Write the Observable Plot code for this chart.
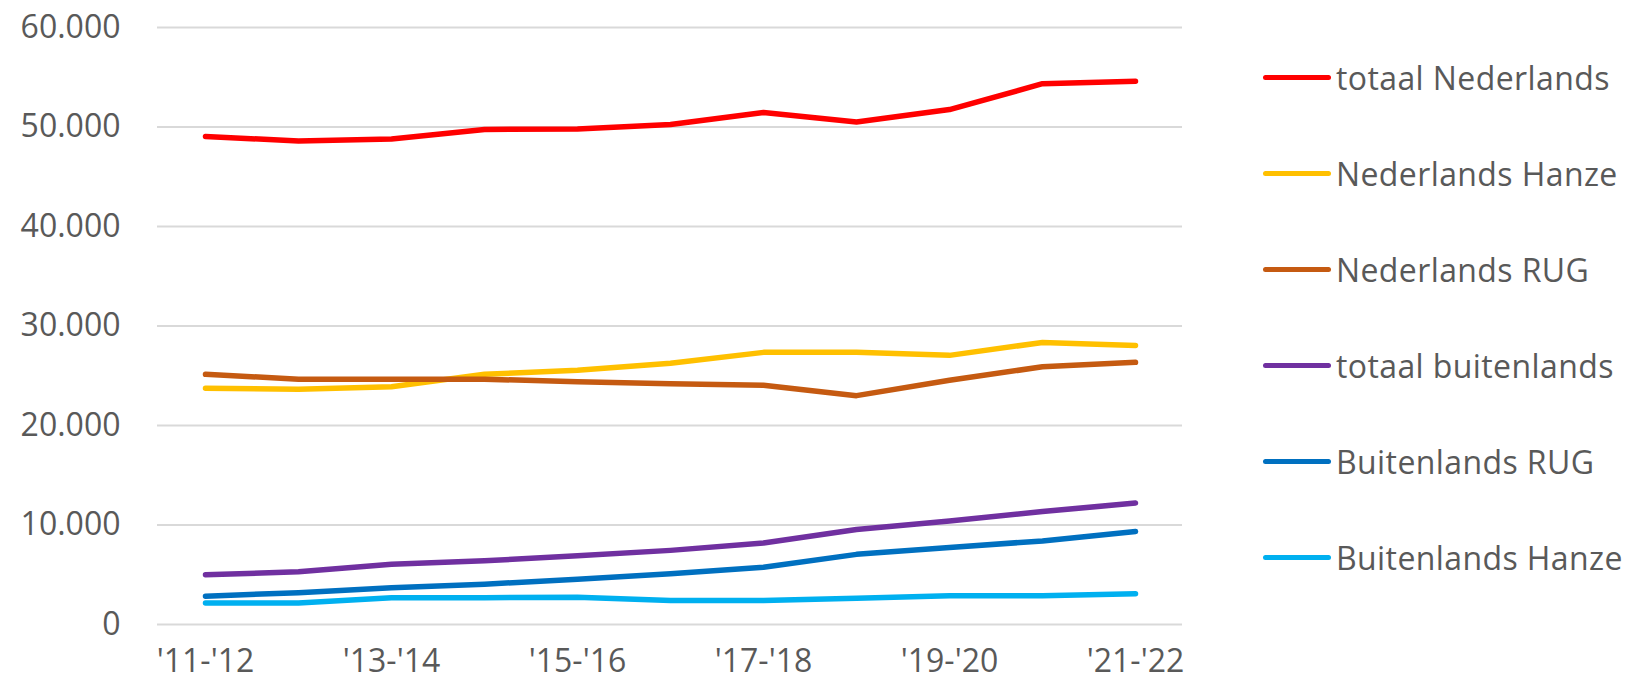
<!DOCTYPE html>
<html>
<head>
<meta charset="utf-8">
<script src="https://cdn.jsdelivr.net/npm/d3@7"></script>
<script src="https://cdn.jsdelivr.net/npm/@observablehq/plot@0.6"></script>
<style>
  html, body { margin: 0; padding: 0; background: #ffffff; }
  body { font-family: "Open Sans", sans-serif; }
  #wrap { position: relative; width: 1629px; height: 682px; overflow: hidden; }
  #legend { position: absolute; left: 1263px; top: 0; }
  .row { position: absolute; left: 0; height: 44px; display: flex; align-items: center; white-space: nowrap; }
  .swatch { width: 68px; height: 5px; border-radius: 3px; margin-right: 5px; }
  .lab { font-size: 32px; color: #595959; letter-spacing: 0.4px; }
</style>
</head>
<body>
<div id="wrap"><div id="legend"></div></div>
<script>
// Categories (academic years)
const years = ["'11-'12", "'12-'13", "'13-'14", "'14-'15", "'15-'16", "'16-'17", "'17-'18", "'18-'19", "'19-'20", "'20-'21", "'21-'22"];
const xTickLabels = ["'11-'12", "'13-'14", "'15-'16", "'17-'18", "'19-'20", "'21-'22"];
const yTicks = [0, 10000, 20000, 30000, 40000, 50000, 60000];

// Series names and colours
const seriesNames = ["totaal Nederlands", "Nederlands Hanze", "Nederlands RUG", "totaal buitenlands", "Buitenlands RUG", "Buitenlands Hanze"];
const seriesColors = ["#FF0000", "#FFC000", "#C55A11", "#7030A0", "#0070C0", "#00B0F0"];

// Series values
const totaalNederlands  = [49050, 48600, 48800, 49750, 49800, 50250, 51450, 50500, 51750, 54350, 54600];
const nederlandsHanze   = [23750, 23650, 23900, 25150, 25550, 26250, 27350, 27350, 27050, 28350, 28050];
const nederlandsRUG     = [25150, 24650, 24650, 24650, 24400, 24200, 24050, 23000, 24550, 25900, 26350];
const totaalBuitenlands = [5000, 5300, 6050, 6400, 6900, 7450, 8200, 9550, 10400, 11350, 12200];
const buitenlandsRUG    = [2850, 3200, 3700, 4050, 4550, 5100, 5750, 7050, 7750, 8400, 9350];
const buitenlandsHanze  = [2150, 2150, 2700, 2700, 2750, 2400, 2400, 2650, 2900, 2900, 3100];

const seriesValues = [totaalNederlands, nederlandsHanze, nederlandsRUG, totaalBuitenlands, buitenlandsRUG, buitenlandsHanze];

const data = [];
seriesNames.forEach((name, s) => {
  seriesValues[s].forEach((v, i) => data.push({series: name, year: years[i], value: v}));
});

const fmt = d => d3.format(",")(d).replace(/,/g, ".");

const chart = Plot.plot({
  width: 1629,
  height: 682,
  marginLeft: 157,
  marginRight: 447,
  marginTop: 27,
  marginBottom: 58,
  style: {fontFamily: "Open Sans, sans-serif", fontSize: "32px", color: "#595959", background: "transparent", overflow: "visible"},
  x: {type: "point", domain: years, padding: 0.5, label: null},
  y: {domain: [0, 60000], label: null},
  color: {domain: seriesNames, range: seriesColors},
  marks: [
    Plot.ruleY(yTicks, {stroke: "#D9D9D9", strokeWidth: 2}),
    Plot.axisY({ticks: yTicks, tickSize: 0, tickPadding: 37, tickFormat: fmt, label: null}),
    Plot.axisX({ticks: xTickLabels, tickSize: 0, tickPadding: 25, label: null}),
    Plot.line(data, {x: "year", y: "value", z: "series", stroke: "series", strokeWidth: 5.5, strokeLinecap: "round", strokeLinejoin: "round"})
  ]
});

const wrap = document.getElementById("wrap");
chart.style.position = "absolute";
chart.style.left = "0px";
chart.style.top = "0px";
wrap.insertBefore(chart, wrap.firstChild);

// Legend built from the series arrays
const legend = d3.select("#legend");
seriesNames.forEach((name, i) => {
  const row = legend.append("div").attr("class", "row").style("top", (77 + 96 * i - 22) + "px");
  row.append("div").attr("class", "swatch").style("background", seriesColors[i]);
  row.append("span").attr("class", "lab").text(name);
});
</script>
</body>
</html>
